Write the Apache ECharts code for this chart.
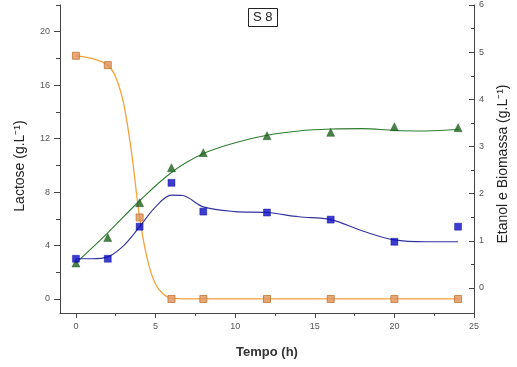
<!DOCTYPE html>
<html><head><meta charset="utf-8">
<script src="https://cdn.jsdelivr.net/npm/echarts@6/dist/echarts.min.js"></script>
<style>html,body{margin:0;padding:0;background:#fff}#c{width:517px;height:367px}</style>
</head><body><div id="c"></div>
<script>
// Measured data points
const time = [0, 2, 4, 6, 8, 12, 16, 20, 24];
const lactose = [18.2, 17.5, 6.1, 0, 0, 0, 0, 0, 0];
const ethanol = [0.53, 1.07, 1.81, 2.55, 2.87, 3.23, 3.30, 3.42, 3.40];
const biomass = [0.62, 0.62, 1.30, 2.23, 1.62, 1.60, 1.45, 0.98, 1.30];
// Fitted curves
const lactoseFitX = [0, 1, 2, 2.5, 3, 3.5, 4, 4.5, 5, 5.5, 6, 8, 12, 16, 20, 24];
const lactoseFitY = [18.2, 18.0, 17.5, 16.6, 14.6, 10.9, 6.1, 2.9, 1.1, 0.35, 0.05, 0, 0, 0, 0, 0];
const ethanolFitX = [0, 2, 4, 6, 8, 10, 12, 14, 16, 18, 20, 22, 24];
const ethanolFitY = [0.53, 1.17, 1.85, 2.45, 2.85, 3.08, 3.24, 3.33, 3.37, 3.38, 3.34, 3.33, 3.36];
const biomassFitX = [0, 1, 2, 3, 4, 5, 6, 6.7, 8, 10, 12, 14, 16, 18, 20, 22, 24];
const biomassFitY = [0.62, 0.62, 0.66, 0.9, 1.30, 1.72, 1.97, 1.96, 1.72, 1.62, 1.60, 1.51, 1.45, 1.21, 1.02, 0.98, 0.98];
// Tick labels
const xTicks = [0, 5, 10, 15, 20, 25];
const xMinor = [2.5, 7.5, 12.5, 17.5, 22.5];
const leftTicks = [0, 4, 8, 12, 16, 20];
const leftMinor = [2, 6, 10, 14, 18, 22];
const rightTicks = [0, 1, 2, 3, 4, 5, 6];
const rightMinor = [0.5, 1.5, 2.5, 3.5, 4.5, 5.5];

const zip = (a, b) => a.map((v, i) => [v, b[i]]);
const axCol = '#444';
const FONT = 'Liberation Sans, Arial, sans-serif';
const lblStyle = {fontFamily: FONT, fontSize: 9, color: '#555'};

const chart = echarts.init(document.getElementById('c'), null, {renderer: 'canvas'});
chart.setOption({
  animation: false,
  backgroundColor: '#fff',
  grid: {left: 60, right: 43, top: 5, bottom: 54, containLabel: false},
  title: {text: 'S 8', left: 248, top: 8, padding: [3, 5, 3, 5], borderColor: '#222', borderWidth: 1,
    textStyle: {fontFamily: FONT, fontSize: 13, fontWeight: 'normal', color: '#222'}},
  xAxis: [
    {type: 'value', min: -1, max: 25, position: 'bottom',
     axisLine: {show: true, onZero: false, lineStyle: {color: axCol, width: 1}},
     axisTick: {show: true, length: 5, customValues: xTicks, lineStyle: {color: axCol}},
     axisLabel: Object.assign({show: true, margin: 9, customValues: xTicks}, lblStyle),
     splitLine: {show: false}},
    {type: 'value', min: -1, max: 25, position: 'bottom',
     axisLine: {show: false, onZero: false},
     axisTick: {show: true, length: 3, customValues: xMinor, lineStyle: {color: axCol}},
     axisLabel: {show: false}, splitLine: {show: false}}
  ],
  yAxis: [
    {type: 'value', min: -1.05, max: 22, position: 'left',
     axisLine: {show: true, onZero: false, lineStyle: {color: axCol, width: 1}},
     axisTick: {show: true, length: 6, customValues: leftTicks, lineStyle: {color: axCol}},
     axisLabel: Object.assign({show: true, margin: 10, customValues: leftTicks}, lblStyle),
     splitLine: {show: false}},
    {type: 'value', min: -0.53, max: 6, position: 'right',
     axisLine: {show: true, onZero: false, lineStyle: {color: axCol, width: 1}},
     axisTick: {show: true, inside: true, length: 5, customValues: rightTicks, lineStyle: {color: axCol}},
     axisLabel: Object.assign({show: true, margin: 5, customValues: rightTicks}, lblStyle),
     splitLine: {show: false}},
    {type: 'value', min: -1.05, max: 22, position: 'left', offset: 0,
     axisLine: {show: false, onZero: false},
     axisTick: {show: true, length: 4, customValues: leftMinor, lineStyle: {color: axCol}},
     axisLabel: {show: false}, splitLine: {show: false}},
    {type: 'value', min: -0.53, max: 6, position: 'right', offset: 0,
     axisLine: {show: false, onZero: false},
     axisTick: {show: true, inside: true, length: 3, customValues: rightMinor, lineStyle: {color: axCol}},
     axisLabel: {show: false}, splitLine: {show: false}}
  ],
  graphic: [
    {type: 'text', x: 20, y: 166, rotation: Math.PI / 2,
     style: {text: 'Lactose (g.L⁻¹)', fontFamily: FONT, fontSize: 14, fill: '#222', align: 'center', verticalAlign: 'middle'}},
    {type: 'text', x: 503, y: 164, rotation: Math.PI / 2,
     style: {text: 'Etanol e Biomassa (g.L⁻¹)', fontFamily: FONT, fontSize: 14, fill: '#222', align: 'center', verticalAlign: 'middle'}},
    {type: 'text', x: 267, y: 352,
     style: {text: 'Tempo (h)', fontFamily: FONT, fontSize: 13, fontWeight: 'bold', fill: '#333', align: 'center', verticalAlign: 'middle'}}
  ],
  series: [
    {type: 'line', xAxisIndex: 0, yAxisIndex: 0, data: zip(lactoseFitX, lactoseFitY), smooth: 0.35,
     showSymbol: false, symbol: 'none', lineStyle: {color: '#f5a23c', width: 1.3}, z: 2},
    {type: 'line', xAxisIndex: 0, yAxisIndex: 1, data: zip(ethanolFitX, ethanolFitY), smooth: 0.35,
     showSymbol: false, symbol: 'none', lineStyle: {color: '#2e7d2e', width: 1.1}, z: 2},
    {type: 'line', xAxisIndex: 0, yAxisIndex: 1, data: zip(biomassFitX, biomassFitY), smooth: 0.35,
     showSymbol: false, symbol: 'none', lineStyle: {color: '#33339e', width: 1.1}, z: 2},
    {type: 'scatter', xAxisIndex: 0, yAxisIndex: 0, data: zip(time, lactose), symbol: 'rect', symbolSize: 7,
     itemStyle: {color: '#e0925a', borderColor: '#c47530', borderWidth: 1}, z: 3},
    {type: 'scatter', xAxisIndex: 0, yAxisIndex: 1, data: zip(time, ethanol), symbol: 'triangle', symbolSize: 8,
     itemStyle: {color: '#1b631b', borderColor: '#124a12', borderWidth: 0.5}, z: 3},
    {type: 'scatter', xAxisIndex: 0, yAxisIndex: 1, data: zip(time, biomass), symbol: 'rect', symbolSize: 7,
     itemStyle: {color: '#0b0bc4', borderColor: '#06068a', borderWidth: 0.5}, z: 3}
  ]
});
</script></body></html>
